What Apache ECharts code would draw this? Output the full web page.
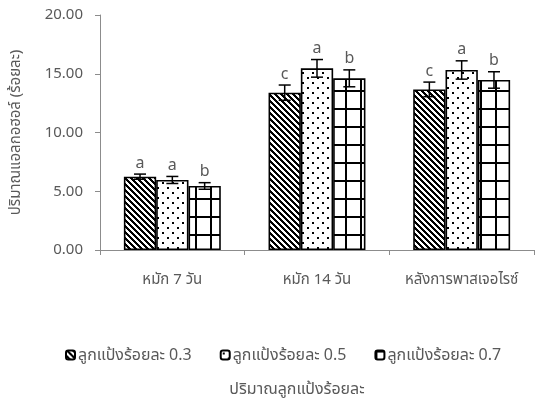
<!DOCTYPE html>
<html><head><meta charset="utf-8">
<script src="https://cdn.jsdelivr.net/npm/echarts@6/dist/echarts.min.js"></script>
<style>html,body{margin:0;padding:0;background:#fff}#c{width:535px;height:408px}</style>
</head><body><div id="c"></div>
<script>
const categories = ['หมัก 7 วัน', 'หมัก 14 วัน', 'หลังการพาสเจอไรซ์'];
const seriesNames = ['ลูกแป้งร้อยละ 0.3', 'ลูกแป้งร้อยละ 0.5', 'ลูกแป้งร้อยละ 0.7'];
const values03 = [6.24, 13.39, 13.67];
const values05 = [5.96, 15.46, 15.32];
const values07 = [5.45, 14.61, 14.47];
const errors03 = [0.22, 0.65, 0.62];
const errors05 = [0.3, 0.75, 0.78];
const errors07 = [0.28, 0.72, 0.7];
const letters03 = ['a', 'c', 'c'];
const letters05 = ['a', 'a', 'a'];
const letters07 = ['b', 'b', 'b'];
const yMin = 0, yMax = 20, yInterval = 5;
const yAxisName = 'ปริมาณแอลกอฮอล์ (ร้อยละ)';
const xAxisName = 'ปริมาณลูกแป้งร้อยละ';

const FONT = '"Noto Sans", "Noto Sans Thai", sans-serif';
const TXT = '#595959';
const AX = '#8c8c8c';
const CAT_GAP = 0.33;

function tile(w, h, fn) {
  const c = document.createElement('canvas');
  c.width = w; c.height = h;
  const ctx = c.getContext('2d');
  const img = ctx.createImageData(w, h);
  for (let y = 0; y < h; y++) for (let x = 0; x < w; x++) {
    const i = (y * w + x) * 4;
    const b = fn(x, y);
    img.data[i] = img.data[i + 1] = img.data[i + 2] = b ? 0 : 255;
    img.data[i + 3] = 255;
  }
  ctx.putImageData(img, 0, 0);
  return c;
}
const stripe = tile(6, 6, (x, y) => (((x - y) % 6) + 6) % 6 < 3);
const dots = tile(10, 10, (x, y) => ((x >= 2 && x < 4 && y >= 2 && y < 4) || (x >= 7 && x < 9 && y >= 7 && y < 9)));
const gridT = tile(15, 18, (x, y) => x < 2 || y < 2);
const patterns = [stripe, dots, gridT];

const valueSets = [values03, values05, values07];
const errorSets = [errors03, errors05, errors07];
const letterSets = [letters03, letters05, letters07];

const series = [];
valueSets.forEach((vals, k) => {
  series.push({
    name: seriesNames[k], type: 'bar', data: vals,
    barGap: '0%', barCategoryGap: (CAT_GAP * 100) + '%',
    itemStyle: { color: { image: patterns[k], repeat: 'repeat' }, borderColor: '#000', borderWidth: 1.6 },
    emphasis: { disabled: true }, silent: true
  });
});
valueSets.forEach((vals, k) => {
  series.push({
    name: 'err' + k, type: 'custom', silent: true, z: 5,
    data: vals.map((v, i) => [i, v, errorSets[k][i]]),
    renderItem: function (params, api) {
      const ci = api.value(0), v = api.value(1), e = api.value(2);
      const catW = api.size([1, 0])[0];
      const bw = catW * (1 - CAT_GAP) / 3;
      const cx = api.coord([ci, v])[0] + (k - 1) * bw;
      const top = api.coord([ci, v + e])[1];
      const bot = api.coord([ci, v - e])[1];
      const cap = 6;
      const st = { stroke: '#000', lineWidth: 1.5 };
      return { type: 'group', children: [
        { type: 'line', shape: { x1: cx, y1: top, x2: cx, y2: bot }, style: st },
        { type: 'line', shape: { x1: cx - cap, y1: top, x2: cx + cap, y2: top }, style: st },
        { type: 'line', shape: { x1: cx - cap, y1: bot, x2: cx + cap, y2: bot }, style: st },
        { type: 'text', style: { text: letterSets[k][params.dataIndex], x: cx, y: top - 3, align: 'center', verticalAlign: 'bottom', fill: TXT, font: '16px ' + FONT } }
      ]};
    }
  });
});

const chart = echarts.init(document.getElementById('c'), null, { renderer: 'canvas' });
chart.setOption({
  animation: false,
  textStyle: { fontFamily: FONT },
  grid: { left: 100, right: 1, top: 15, bottom: 158 },
  title: {
    text: xAxisName, left: 297, top: 381, textAlign: 'center', padding: 0,
    textStyle: { color: TXT, fontSize: 16, fontWeight: 'normal', fontFamily: FONT }
  },
  legend: {
    data: seriesNames, top: 347, left: 65, padding: 0, itemGap: 28, itemWidth: 9, itemHeight: 9,
    textStyle: { color: TXT, fontSize: 16, fontFamily: FONT, padding: [0, 0, 0, -2] }
  },
  xAxis: {
    type: 'category', data: categories,
    axisLine: { lineStyle: { color: AX, width: 1 } },
    axisTick: { show: true, length: 5, lineStyle: { color: AX } },
    axisLabel: { color: TXT, fontSize: 15, margin: 22, interval: 0, hideOverlap: false, fontFamily: FONT }
  },
  yAxis: {
    type: 'value', min: yMin, max: yMax, interval: yInterval,
    name: yAxisName, nameLocation: 'middle', nameGap: 77,
    nameTextStyle: { color: TXT, fontSize: 15, fontFamily: FONT },
    axisLine: { show: true, lineStyle: { color: AX, width: 1 } },
    axisTick: { show: true, length: 5, lineStyle: { color: AX } },
    splitLine: { show: false },
    axisLabel: { color: TXT, fontSize: 15, margin: 17, fontFamily: FONT, formatter: v => v.toFixed(2) }
  },
  series: series
});
</script></body></html>
